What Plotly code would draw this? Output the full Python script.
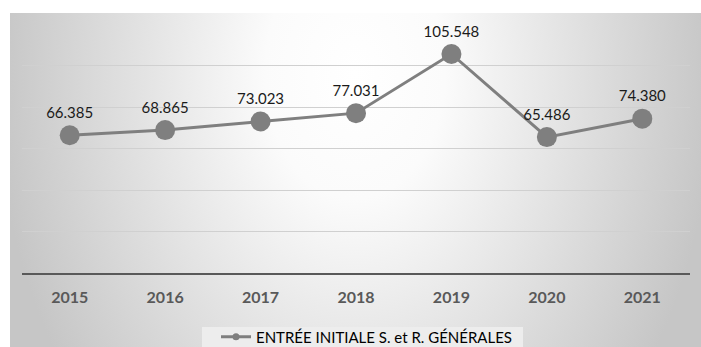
import base64
import plotly.graph_objects as go

years = ["2015", "2016", "2017", "2018", "2019", "2020", "2021"]
entrees = [66.385, 68.865, 73.023, 77.031, 105.548, 65.486, 74.380]
labels = ["66.385", "68.865", "73.023", "77.031", "105.548", "65.486", "74.380"]
series_name = "ENTRÉE INITIALE S. et R. GÉNÉRALES"

LINE_GREY = "#7f7f7f"

# Radial-gradient panel behind the whole chart
svg = """<svg xmlns='http://www.w3.org/2000/svg' width='691' height='334' viewBox='0 0 691 334' preserveAspectRatio='none'>
<defs><radialGradient id='g' gradientUnits='userSpaceOnUse' cx='345' cy='60' r='360'
 gradientTransform='translate(345,60) scale(1,1.4) translate(-345,-60)'>
<stop offset='0' stop-color='#ffffff'/><stop offset='0.25' stop-color='#fbfbfb'/>
<stop offset='1' stop-color='#c6c6c6'/></radialGradient></defs>
<rect width='691' height='334' fill='url(#g)'/></svg>"""
bg_uri = "data:image/svg+xml;base64," + base64.b64encode(svg.encode()).decode()

fig = go.Figure()

fig.add_trace(go.Scatter(
    x=years, y=entrees,
    mode="lines+markers+text",
    text=labels,
    textposition="top center",
    textfont=dict(family="Lato", size=15, color="#1a1a1a"),
    line=dict(color=LINE_GREY, width=3),
    marker=dict(color=LINE_GREY, size=20),
    showlegend=False,
    hoverinfo="x+y",
))

# Legend entry with a small marker
fig.add_trace(go.Scatter(
    x=[None], y=[None], name=series_name,
    mode="lines+markers",
    line=dict(color=LINE_GREY, width=3),
    marker=dict(color=LINE_GREY, size=7),
))

W, H = 701, 347
L, R, T, B = 22, 11, 24, 74
pw, ph = W - L - R, H - T - B

def px_to_paper_x(px):
    return (px - L) / pw

def py_to_paper_y(py):
    return (H - B - py) / ph

fig.add_layout_image(dict(
    source=bg_uri, xref="paper", yref="paper",
    x=px_to_paper_x(10), y=py_to_paper_y(13),
    sizex=(W - 10) / pw, sizey=(H - 13) / ph,
    xanchor="left", yanchor="top", sizing="stretch", layer="below",
))

# Light box behind the legend entry
fig.add_shape(
    type="rect", xref="paper", yref="paper", layer="below",
    x0=px_to_paper_x(202), x1=px_to_paper_x(523),
    y0=py_to_paper_y(347), y1=py_to_paper_y(327),
    fillcolor="#ededed", line=dict(width=0),
)

fig.update_layout(
    width=W, height=H,
    margin=dict(l=L, r=R, t=T, b=B, autoexpand=False),
    paper_bgcolor="white",
    plot_bgcolor="rgba(0,0,0,0)",
    xaxis=dict(
        type="category", range=[-0.5, 6.5],
        showgrid=False, showline=True, linecolor="#595959", linewidth=2,
        ticks="", tickfont=dict(family="Lato", size=16, color="#595959", weight="bold"),
        ticklabelstandoff=9,
    ),
    yaxis=dict(
        range=[0, 120], dtick=20, showticklabels=False,
        showgrid=True, gridcolor="#d0d0d0", gridwidth=1,
        zeroline=False,
    ),
    legend=dict(
        orientation="h", xanchor="left", yanchor="top",
        x=px_to_paper_x(216), y=py_to_paper_y(320.5),
        bgcolor="rgba(0,0,0,0)",
        font=dict(family="Lato", size=15, color="#000000"),
        itemwidth=30,
    ),
)

fig.write_html("out.html")
